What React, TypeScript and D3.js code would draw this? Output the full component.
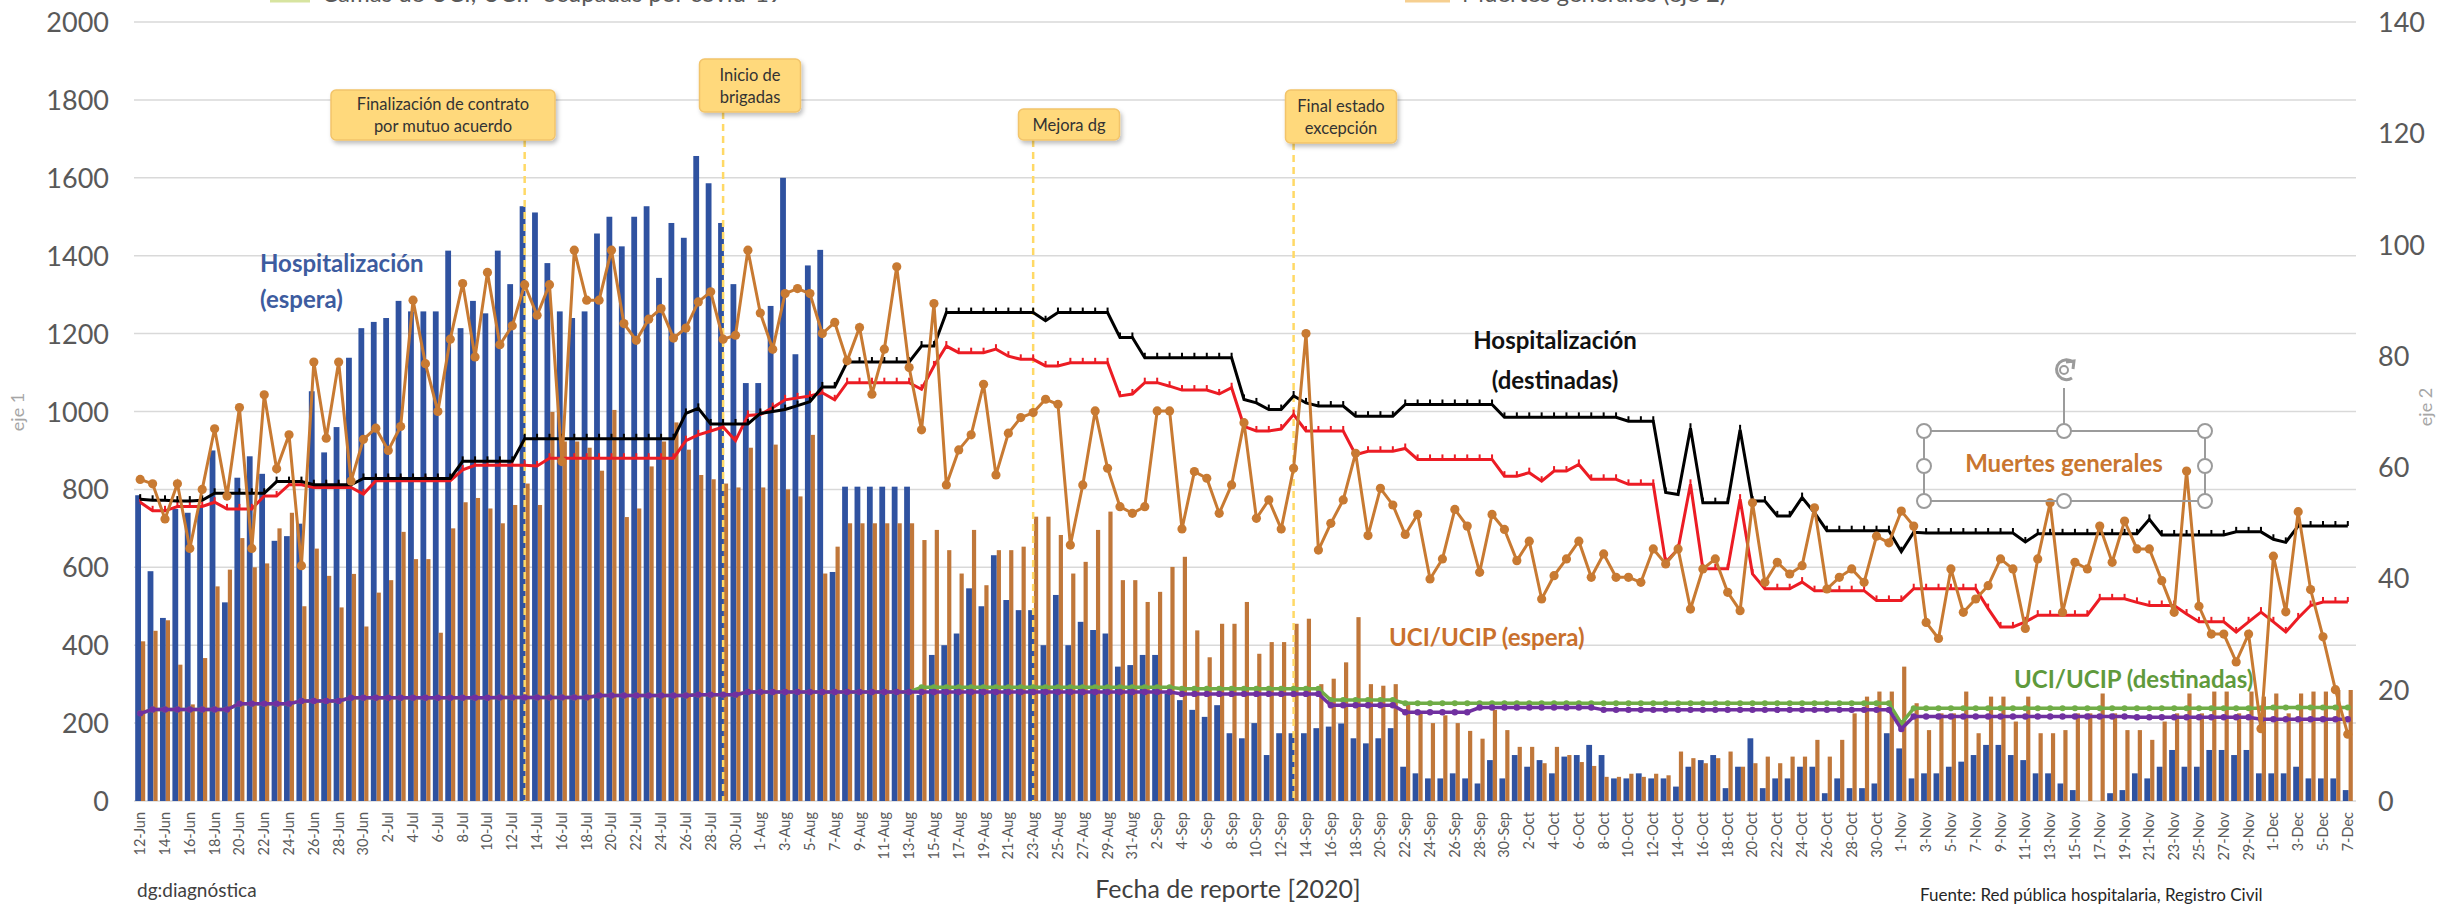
import React from 'react';
import * as d3 from 'd3';

const W = 2438;
const H = 907;
const FONT = 'Lato, "Open Sans", sans-serif';

// daily report dates 12-Jun .. 7-Dec 2020
const days = d3.timeDay.range(new Date(2020, 5, 12), new Date(2020, 11, 8));
const categories = days.map(d3.timeFormat('%-d-%b'));
const tickLabels = categories.filter((_, i) => i % 2 === 0);

const leftTicks = [0, 200, 400, 600, 800, 1000, 1200, 1400, 1600, 1800, 2000];
const rightTicks = [0, 20, 40, 60, 80, 100, 120, 140];

// Hospitalización (espera) - barras azules, eje 1
const hospEspera = [
  785, 590, 470, 750, 740, 760, 900, 510, 830, 885, 840, 668, 680, 712, 1052, 895, 960, 1138, 1214,
  1230, 1240, 1284, 1257, 1257, 1257, 1413, 1214, 1284, 1252, 1413, 1327, 1527, 1511, 1381, 1257, 1240, 1257, 1457, 1500, 1424, 1500, 1527, 1343, 1484, 1446, 1656, 1586, 1484, 1327, 1073,
  1073, 1271, 1600, 1147, 1375, 1415, 588, 807, 807, 807, 807, 807, 807, 272, 375, 400, 430, 546, 500, 631, 516, 490, 490, 400, 529, 400, 460, 439, 430, 345, 349,
  375, 375, 276, 259, 234, 216, 246, 174, 161, 200, 118, 174, 174, 174, 187, 191, 199, 161, 148, 161, 187, 88, 71, 58, 58, 71, 58, 45, 105, 58,
  118, 88, 105, 71, 114, 118, 144, 118, 58, 58, 71, 58, 58, 37, 88, 105, 118, 33, 88, 161, 33, 58, 58, 88, 88, 20, 58, 33, 33, 45, 174,
  135, 58, 71, 71, 88, 101, 118, 144, 144, 118, 105, 71, 71, 45, 28, 0, 0, 20, 28, 71, 58, 88, 131, 88, 88, 131, 131, 118, 131, 71,
  71, 71, 88, 58, 58, 58, 28,
];

// UCI/UCIP (espera) - barras naranjas, eje 1
const uciEspera = [
  410, 437, 464, 350, 248, 367, 551, 594, 675, 600, 610, 700, 740, 500, 648, 578, 497, 583, 448,
  535, 567, 691, 621, 621, 432, 700, 767, 778, 751, 713, 760, 815, 760, 999, 923, 923, 907, 848, 1004, 729, 751, 859, 923, 972, 902, 837, 826, 815, 805, 907,
  805, 915, 800, 782, 940, 584, 653, 713, 713, 713, 713, 713, 713, 670, 696, 644, 584, 696, 554, 644, 644, 653, 730, 730, 683, 584, 614, 696, 743, 567, 567,
  511, 537, 601, 627, 438, 369, 455, 455, 511, 378, 408, 408, 455, 468, 300, 314, 356, 472, 300, 296, 300, 250, 230, 200, 220, 200, 180, 160, 234, 182,
  139, 139, 97, 139, 118, 100, 90, 62, 62, 70, 62, 70, 66, 127, 110, 97, 110, 127, 88, 97, 114, 97, 114, 114, 157, 114, 157, 225, 268, 281, 281,
  345, 251, 182, 225, 225, 281, 174, 268, 268, 204, 268, 174, 174, 182, 225, 225, 276, 225, 182, 182, 157, 204, 225, 276, 225, 281, 281, 225, 281, 268,
  276, 225, 276, 281, 281, 285, 285,
];

// Hospitalización (destinadas) - línea negra, eje 1
const hospDestinadas = [
  775, 772, 772, 770, 770, 772, 790, 790, 790, 790, 790, 820, 820, 820, 812, 812, 812, 812, 828,
  828, 828, 828, 828, 828, 828, 828, 872, 872, 872, 872, 872, 930, 930, 930, 930, 930, 930, 930, 930, 930, 930, 930, 930, 930, 995, 1008, 968, 968, 968, 968,
  995, 1000, 1005, 1015, 1025, 1063, 1063, 1127, 1127, 1127, 1127, 1127, 1127, 1168, 1168, 1254, 1254, 1254, 1254, 1254, 1254, 1254, 1254, 1233, 1254, 1254, 1254, 1254, 1254, 1190, 1190,
  1138, 1138, 1138, 1138, 1138, 1138, 1138, 1138, 1031, 1022, 1005, 1005, 1040, 1022, 1014, 1014, 1014, 988, 988, 988, 988, 1018, 1018, 1018, 1018, 1018, 1018, 1018, 1018, 985,
  985, 985, 985, 985, 985, 985, 985, 985, 985, 975, 975, 975, 792, 787, 957, 766, 766, 766, 953, 770, 770, 732, 732, 779, 740, 694, 694, 694, 694, 694, 694,
  640, 690, 688, 688, 688, 688, 688, 688, 688, 688, 665, 686, 686, 686, 686, 686, 686, 686, 686, 686, 723, 683, 683, 683, 683, 683, 683, 691, 691, 691,
  672, 664, 706, 706, 706, 706, 706,
];

// Hospitalización (ocupadas) - línea roja, eje 1
const hospOcupadas = [
  767, 745, 745, 756, 756, 756, 767, 750, 750, 750, 783, 783, 812, 812, 805, 805, 805, 805, 788,
  822, 822, 822, 822, 822, 822, 822, 850, 862, 862, 862, 862, 862, 860, 880, 880, 880, 880, 880, 880, 880, 880, 880, 880, 880, 925, 940, 950, 960, 925, 990,
  992, 1010, 1030, 1035, 1040, 1048, 1030, 1074, 1074, 1074, 1074, 1074, 1074, 1057, 1117, 1168, 1151, 1151, 1151, 1160, 1142, 1134, 1134, 1117, 1117, 1125, 1125, 1125, 1125, 1040, 1045,
  1074, 1074, 1065, 1055, 1055, 1055, 1045, 1061, 962, 950, 950, 955, 992, 950, 950, 950, 950, 889, 898, 898, 898, 905, 877, 877, 877, 877, 877, 877, 877, 834,
  834, 843, 821, 847, 847, 864, 826, 826, 826, 813, 813, 813, 613, 647, 813, 596, 596, 596, 775, 583, 545, 545, 545, 562, 540, 540, 540, 540, 540, 515, 515,
  515, 545, 545, 545, 545, 545, 545, 494, 447, 447, 460, 477, 477, 477, 477, 477, 519, 519, 519, 510, 502, 502, 502, 480, 460, 460, 460, 434, 460, 485,
  460, 434, 470, 502, 511, 511, 511,
];

// UCI/UCIP (destinadas) - línea verde, eje 1
const uciDestinadas = [
  225, 235, 235, 235, 235, 235, 235, 235, 250, 250, 250, 250, 250, 257, 257, 257, 257, 265, 265,
  265, 265, 265, 265, 265, 265, 265, 265, 265, 265, 266, 266, 266, 266, 266, 266, 266, 266, 271, 271, 271, 271, 271, 271, 271, 271, 273, 273, 273, 273, 280,
  280, 280, 280, 280, 280, 280, 280, 280, 280, 280, 280, 280, 280, 292, 292, 292, 292, 292, 292, 292, 292, 292, 292, 292, 292, 292, 292, 292, 292, 292, 292,
  292, 292, 292, 288, 288, 288, 288, 288, 288, 288, 288, 288, 288, 288, 288, 259, 259, 259, 259, 259, 259, 251, 251, 251, 251, 251, 251, 251, 251, 251,
  251, 251, 251, 251, 251, 251, 251, 251, 251, 251, 251, 251, 251, 251, 251, 251, 251, 251, 251, 251, 251, 251, 251, 251, 251, 251, 251, 251, 251, 251, 251,
  199, 238, 238, 238, 238, 238, 238, 238, 238, 238, 238, 238, 238, 238, 238, 238, 238, 238, 238, 238, 238, 238, 238, 238, 238, 238, 238, 238, 238, 238,
  240, 240, 240, 240, 240, 240, 240,
];

// UCI/UCIP (ocupadas) - línea morada, eje 1
const uciOcupadas = [
  225, 235, 235, 235, 235, 235, 235, 235, 250, 250, 250, 250, 250, 257, 257, 257, 257, 265, 265,
  265, 265, 265, 265, 265, 265, 265, 265, 265, 265, 266, 266, 266, 266, 266, 266, 266, 266, 271, 271, 271, 271, 271, 271, 271, 271, 273, 273, 273, 273, 280,
  280, 280, 280, 280, 280, 280, 280, 280, 280, 280, 280, 280, 280, 280, 280, 280, 280, 280, 280, 280, 280, 280, 280, 280, 280, 280, 280, 280, 280, 280, 280,
  280, 280, 280, 275, 275, 275, 275, 275, 275, 275, 275, 275, 275, 275, 275, 246, 246, 246, 246, 246, 246, 228, 228, 228, 228, 228, 228, 240, 240, 240,
  240, 240, 240, 240, 240, 240, 240, 234, 234, 234, 234, 234, 234, 234, 234, 234, 234, 234, 234, 234, 234, 234, 234, 234, 234, 234, 234, 234, 234, 234, 234,
  185, 217, 217, 217, 217, 217, 217, 217, 217, 217, 217, 217, 217, 217, 217, 217, 217, 217, 217, 215, 215, 215, 215, 215, 215, 215, 215, 215, 215, 210,
  210, 210, 210, 210, 210, 210, 210,
];

// Muertes generales - línea naranja con puntos, eje 2
const muertes = [
  57.8, 57, 50.7, 57, 45.4, 56, 66.9, 54.8, 70.7, 45.4, 73, 59.7, 65.8, 42.3, 78.9, 65.2, 78.9, 57.5, 65,
  67, 63, 67.3, 90, 78.6, 70, 83, 93, 79.8, 95, 82, 85.4, 92.8, 87.3, 92.8, 61, 99, 90, 90, 99, 85.8, 82.8, 86.6, 88.5, 83.2, 85, 89.7, 91.5, 83, 83.7, 99,
  87.7, 81.2, 91.2, 92.1, 91.2, 84, 86, 79.1, 85.1, 73.1, 81.2, 96, 77.9, 66.7, 89.4, 56.8, 63.1, 65.8, 74.9, 58.6, 66.1, 68.9, 69.8, 72.2, 71.3, 46, 56.8, 70.1, 59.8, 52.9, 51.7,
  52.9, 70.1, 70.1, 48.9, 59.2, 58, 51.7, 56.8, 68, 50.8, 54.1, 48.9, 59.8, 84, 45.1, 49.9, 54.1, 62.5, 47.7, 56.2, 53.2, 47.9, 51.5, 39.9, 43.5, 52.4, 49.4, 41.1, 51.5, 48.8,
  43.2, 46.7, 36.3, 40.5, 43.5, 46.7, 40.2, 44.4, 40.2, 40.2, 39.3, 45.3, 42.6, 45.3, 34.5, 41.7, 43.5, 37.5, 34.2, 53.6, 39.3, 42.9, 40.8, 42.3, 52.7, 38.1, 40.2, 41.7, 39.3, 47.6, 46.4,
  52.1, 49.4, 32.1, 29.2, 41.7, 33.9, 36.3, 38.7, 43.5, 41.7, 31, 43.5, 53.6, 33.9, 42.9, 41.7, 49.4, 42.9, 50.3, 45.3, 45.3, 39.6, 33.9, 59.3, 35, 30, 30, 25, 30, 13,
  44, 34, 52, 38, 29.5, 20, 12,
];

const annotations = [
  { date: '13-Jul', lines: ['Finalización de contrato', 'por mutuo acuerdo'] },
  { date: '29-Jul', lines: ['Inicio de', 'brigadas'] },
  { date: '23-Aug', lines: ['Mejora dg'] },
  { date: '13-Sep', lines: ['Final estado', 'excepción'] },
];

// box geometry for each annotation [centerX, top, width, height]
const annBoxes = [
  [443, 90, 224, 50],
  [750, 59, 101, 53],
  [1069, 109, 101, 31],
  [1341, 90, 111, 53],
];

const C = {
  blue: '#2f52a0',
  orangeBar: '#c0773a',
  muertes: '#c87a32',
  black: '#000000',
  red: '#ec1c24',
  green: '#70ad47',
  purple: '#7030a0',
  grid: '#d9d9d9',
  axis: '#595959',
};

export default function App() {
  const x = d3.scaleBand<string>().domain(categories).range([134, 2354]).paddingInner(0).paddingOuter(0);
  const yL = d3.scaleLinear().domain([0, 2000]).range([801, 22]);
  const yR = d3.scaleLinear().domain([0, 140]).range([801, 22]);
  const bw = x.bandwidth();
  const cx = (i: number) => (x(categories[i]) as number) + bw / 2;

  const lineL = d3.line<number>().x((_, i) => cx(i)).y((d) => yL(d));
  const lineR = d3.line<number>().x((_, i) => cx(i)).y((d) => yR(d));

  return (
    <>
      <style>{'body{margin:0;background:#fff}'}</style>
      <svg width={W} height={H} style={{ display: 'block', fontFamily: FONT }}>
        <defs>
          <filter id="shadow" x="-20%" y="-20%" width="140%" height="160%">
            <feDropShadow dx="2" dy="3" stdDeviation="2" floodColor="#000" floodOpacity="0.25" />
          </filter>
        </defs>
        <rect width={W} height={H} fill="#fff" />

        {/* top legend (cropped by the picture's top edge) */}
        <line x1={270} x2={310} y1={1} y2={1} stroke="#d7e4a0" strokeWidth={3} />
        <text x={322} y={2} fontSize={24} fill={C.axis}>Camas de UCI, UCIP ocupadas por covid-19</text>
        <line x1={1405} x2={1450} y1={1} y2={1} stroke="#f6cf90" strokeWidth={3} />
        <text x={1462} y={2} fontSize={24} fill={C.axis}>Muertes generales (eje 2)</text>

        {/* gridlines */}
        {leftTicks.map((t) => (
          <line key={t} x1={134} x2={2356} y1={yL(t)} y2={yL(t)} stroke={C.grid} strokeWidth={1.5} />
        ))}

        {/* bars */}
        {hospEspera.map((v, i) => (
          <rect key={'b' + i} x={(x(categories[i]) as number) + 1.2} y={yL(v)} width={5.8} height={yL(0) - yL(v)} fill={C.blue} />
        ))}
        {uciEspera.map((v, i) => (
          <rect key={'o' + i} x={(x(categories[i]) as number) + 7} y={yL(v)} width={4.2} height={yL(0) - yL(v)} fill={C.orangeBar} />
        ))}

        {/* annotation dashed lines */}
        {annotations.map((a, k) => (
          <line key={'al' + k} x1={cx(categories.indexOf(a.date))} x2={cx(categories.indexOf(a.date))}
            y1={annBoxes[k][1] + annBoxes[k][3]} y2={801} stroke="#ffd966" strokeWidth={2.5} strokeDasharray="7 5" />
        ))}

        {/* lines */}
        <path d={lineL(uciDestinadas) || ''} fill="none" stroke={C.green} strokeWidth={3.5} />
        {uciDestinadas.map((v, i) => (
          <circle key={'g' + i} cx={cx(i)} cy={yL(v)} r={3} fill={C.green} />
        ))}
        <path d={lineL(uciOcupadas) || ''} fill="none" stroke={C.purple} strokeWidth={3.5} />
        {uciOcupadas.map((v, i) => (
          <circle key={'p' + i} cx={cx(i)} cy={yL(v)} r={3.2} fill={C.purple} />
        ))}
        <path d={lineL(hospOcupadas) || ''} fill="none" stroke={C.red} strokeWidth={3} />
        {hospOcupadas.map((v, i) => (
          <rect key={'r' + i} x={cx(i) - 1} y={yL(v) - 5} width={2} height={5} fill={C.red} />
        ))}
        <path d={lineL(hospDestinadas) || ''} fill="none" stroke={C.black} strokeWidth={3} />
        {hospDestinadas.map((v, i) => (
          <rect key={'k' + i} x={cx(i) - 1} y={yL(v) - 5} width={2} height={5} fill={C.black} />
        ))}
        <path d={lineR(muertes) || ''} fill="none" stroke={C.muertes} strokeWidth={3} />
        {muertes.map((v, i) => (
          <circle key={'m' + i} cx={cx(i)} cy={yR(v)} r={4.6} fill={C.muertes} />
        ))}

        {/* annotation boxes */}
        {annotations.map((a, k) => {
          const [bx, by, w, h] = annBoxes[k];
          return (
            <g key={'ab' + k}>
              <rect x={bx - w / 2} y={by} width={w} height={h} rx={5} fill="#ffd97c" stroke="#f2c46a" strokeWidth={1.5} filter="url(#shadow)" />
              {a.lines.map((t, j) => (
                <text key={j} x={bx} y={by + h / 2 + (j - (a.lines.length - 1) / 2) * 22 + 6} textAnchor="middle" fontSize={16.5} fill="#333">{t}</text>
              ))}
            </g>
          );
        })}

        {/* series labels */}
        <g fontWeight={700} fontSize={24}>
          <text x={260} y={272} fill="#3d5c9f">Hospitalización</text>
          <text x={260} y={308} fill="#3d5c9f">(espera)</text>
          <text x={1555} y={349} textAnchor="middle" fill="#111">Hospitalización</text>
          <text x={1555} y={389} textAnchor="middle" fill="#111">(destinadas)</text>
          <text x={1389} y={646} fill="#c9702c">UCI/UCIP (espera)</text>
          <text x={2014} y={688} fill="#5f9a3c">UCI/UCIP (destinadas)</text>
          <text x={2064} y={472} textAnchor="middle" fill="#c9762f">Muertes generales</text>
        </g>

        {/* selection frame around "Muertes generales" */}
        <g stroke="#9b9b9b" strokeWidth={2} fill="none">
          <rect x={1924} y={431} width={281} height={70} />
          <line x1={2064} x2={2064} y1={431} y2={388} />
          <path d="M2073,362 A10,10 0 1 0 2072,378" strokeWidth={3} />
          <path d="M2066,362 L2074,361 L2073,369" strokeWidth={3} />
          <circle cx={2064} cy={370} r={4} strokeWidth={2} />
        </g>
        {[[1924, 431], [2064, 431], [2205, 431], [1924, 466], [2205, 466], [1924, 501], [2064, 501], [2205, 501]].map(([hx, hy], k) => (
          <circle key={'h' + k} cx={hx} cy={hy} r={7} fill="#fff" stroke="#9b9b9b" strokeWidth={2} />
        ))}

        {/* left axis */}
        {leftTicks.map((t) => (
          <text key={'lt' + t} x={109} y={yL(t) + 10} textAnchor="end" fontSize={27} fill={C.axis}>{t}</text>
        ))}
        {/* right axis */}
        {rightTicks.map((t) => (
          <text key={'rt' + t} x={2378} y={yR(t) + 10} fontSize={27} fill={C.axis}>{t}</text>
        ))}

        {/* x tick labels */}
        {tickLabels.map((t) => (
          <text key={'xt' + t} transform={`translate(${(x(t) as number) + bw / 2 + 5},812) rotate(-90)`} textAnchor="end" fontSize={14.5} fill={C.axis}>{t}</text>
        ))}

        {/* axis titles and notes */}
        <text transform="translate(24,412) rotate(-90)" textAnchor="middle" fontSize={18} fill="#a6a6a6">eje 1</text>
        <text transform="translate(2432,407) rotate(-90)" textAnchor="middle" fontSize={18} fill="#a6a6a6">eje 2</text>
        <text x={1228} y={898} textAnchor="middle" fontSize={25} fill="#404040">Fecha de reporte [2020]</text>
        <text x={137} y={897} fontSize={19} fill="#404040">dg:diagnóstica</text>
        <text x={1920} y={901} fontSize={17} fill="#262626">Fuente: Red pública hospitalaria, Registro Civil</text>
      </svg>
    </>
  );
}
